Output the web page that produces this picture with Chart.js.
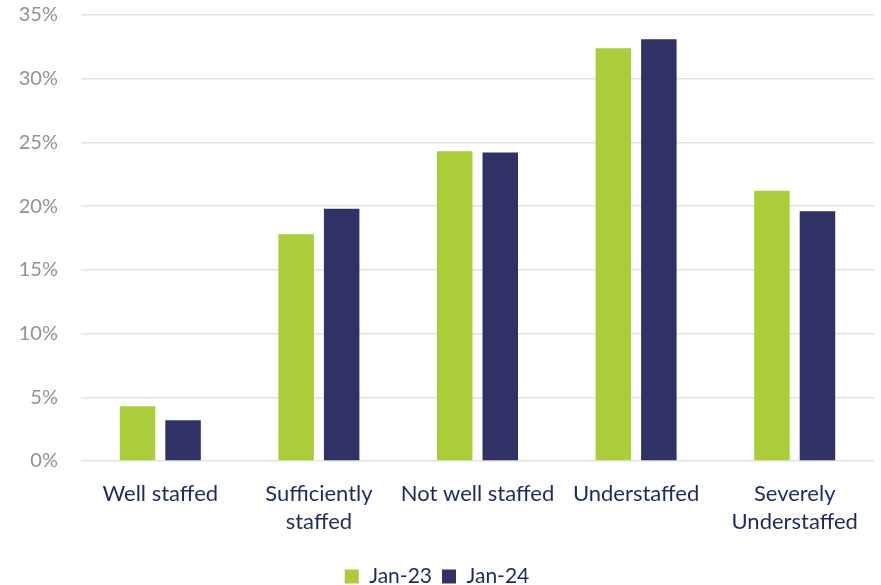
<!DOCTYPE html>
<html>
<head>
<meta charset="utf-8">
<script src="https://cdn.jsdelivr.net/npm/chart.js@4"></script>
<style>
  html, body { margin: 0; padding: 0; background: #fff; }
  #wrap { width: 881px; height: 585px; }
</style>
</head>
<body>
<div id="wrap"><canvas id="myChart" width="881" height="585"></canvas></div>
<script>
// data
var categories = ['Well staffed', ['Sufficiently', 'staffed'], 'Not well staffed', 'Understaffed', ['Severely', 'Understaffed']];
var jan23 = [4.3, 17.8, 24.3, 32.4, 21.2];
var jan24 = [3.2, 19.8, 24.2, 33.1, 19.6];
var yTicks = [0, 5, 10, 15, 20, 25, 30, 35];

var fontFam = 'Lato, "Open Sans", sans-serif';

var ctx = document.getElementById("myChart").getContext("2d");
var myBarChart = new Chart(ctx, {
    type: 'bar',
    data: {
        labels: categories,
        datasets: [
            { label: 'Jan-23', data: jan23, backgroundColor: '#abcd3a', borderWidth: 0 },
            { label: 'Jan-24', data: jan24, backgroundColor: '#303164', borderWidth: 0 }
        ]
    },
    options: {
        responsive: false,
        animation: false,
        devicePixelRatio: 1,
        layout: { padding: { top: 15, right: 7, bottom: -12, left: 0 } },
        datasets: { bar: { categoryPercentage: 0.574, barPercentage: 0.78 } },
        plugins: {
            tooltip: { enabled: false },
            legend: {
                position: 'bottom',
                labels: {
                    color: '#1f2a5c',
                    font: { family: fontFam, size: 21 },
                    boxWidth: 14, boxHeight: 14, padding: 10
                }
            }
        },
        scales: {
            x: {
                grid: { display: false },
                border: { display: false },
                ticks: {
                    color: '#1f2a5c',
                    font: { family: fontFam, size: 22, lineHeight: 1.27 },
                    maxRotation: 0, autoSkip: false, padding: 11
                },
                afterFit: function (s) { s.height = 95; }
            },
            y: {
                min: 0, max: 35,
                afterBuildTicks: function (s) { s.ticks = yTicks.map(function (v) { return { value: v }; }); },
                grid: { color: '#e3e3e3', lineWidth: 1.5, drawTicks: true, tickLength: 23, tickColor: 'rgba(0,0,0,0)' },
                border: { display: false },
                ticks: {
                    color: '#929292',
                    font: { family: fontFam, size: 20 },
                    padding: 0,
                    callback: function (v) { return v + '%'; }
                },
                afterFit: function (s) { s.width = 81; }
            }
        }
    }
});
</script>
</body>
</html>
